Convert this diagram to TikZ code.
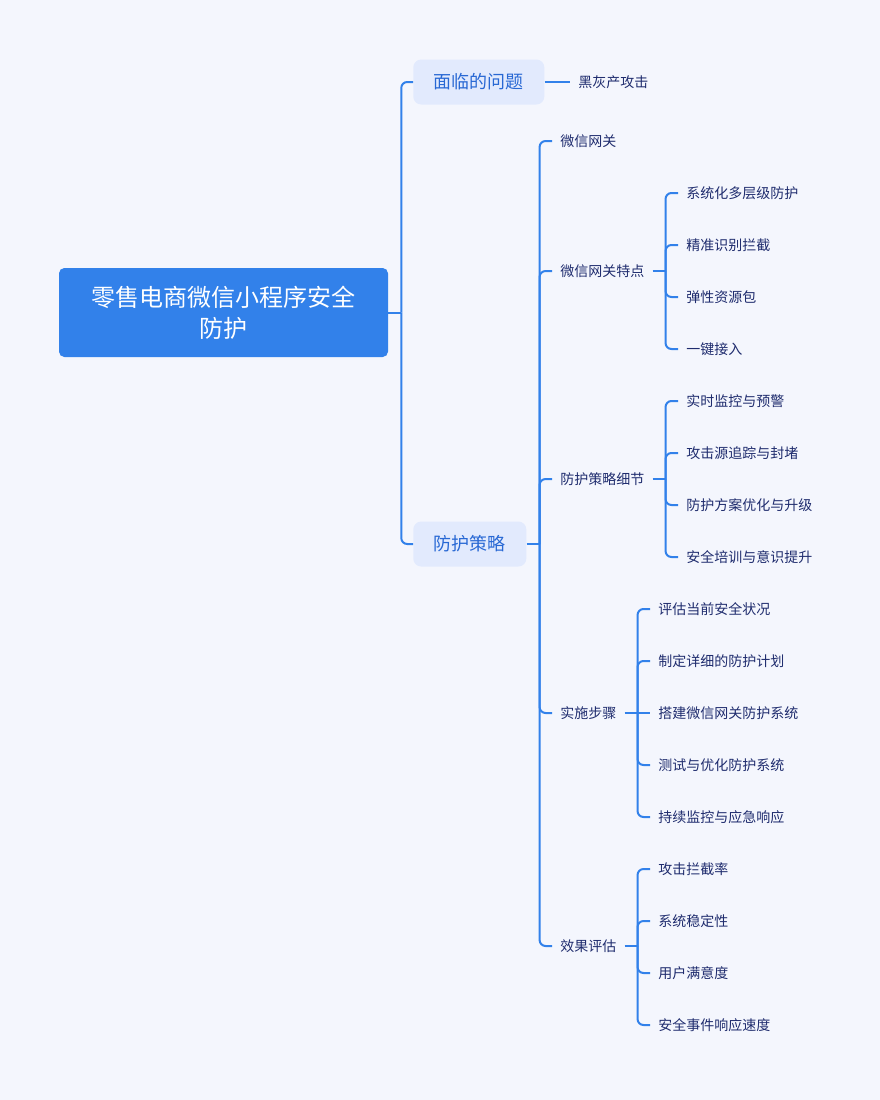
\documentclass[tikz,border=0pt]{standalone}
\usepackage{fontspec}
\setmainfont{Noto Sans CJK SC}
\usetikzlibrary{arrows.meta,backgrounds}

\definecolor{bgpaper}{HTML}{F4F6FD}
\definecolor{rootblue}{HTML}{3281EA}
\definecolor{topicfill}{HTML}{E2EAFD}
\definecolor{topictext}{HTML}{2868D4}
\definecolor{leaftext}{HTML}{1F2C6E}

\tikzset{
    rootnode/.style={fill=rootblue, text=white, rounded corners=4pt, align=center,
                     minimum width=246.75pt, minimum height=66.75pt,
                     font=\fontsize{18pt}{23.25pt}\selectfont},
    topic/.style={fill=topicfill, text=topictext, rounded corners=6pt, anchor=west,
                  inner xsep=15.4pt, minimum height=33.75pt,
                  font=\fontsize{13.5pt}{16pt}\selectfont},
    leaf/.style={text=leaftext, anchor=west, inner xsep=6pt, inner ysep=2pt,
                 font=\fontsize{10.5pt}{13pt}\selectfont},
    link/.style={draw=rootblue, line width=1.5pt, rounded corners=4.5pt}
}

\begin{document}
\begin{tikzpicture}[x=0.75pt, y=-0.75pt]
    \fill[bgpaper] (0,0) rectangle (880,1100);

    % root and first level
    \node[rootnode] (root) at (223.5,312.5) {零售电商微信小程序安全\\防护};
    \node[topic] (issue)  at (413,82)  {面临的问题};
    \node[topic] (policy) at (413,544) {防护策略};
    \node[leaf]  (attack) at (570,82)  {黑灰产攻击};

    % second level
    \node[leaf] (gw)      at (552,141) {微信网关};
    \node[leaf] (gwfeat)  at (552,271) {微信网关特点};
    \node[leaf] (detail)  at (552,479) {防护策略细节};
    \node[leaf] (steps)   at (552,713) {实施步骤};
    \node[leaf] (effect)  at (552,946) {效果评估};

    % third level
    \node[leaf] (f1) at (678,193) {系统化多层级防护};
    \node[leaf] (f2) at (678,245) {精准识别拦截};
    \node[leaf] (f3) at (678,297) {弹性资源包};
    \node[leaf] (f4) at (678,349) {一键接入};

    \node[leaf] (d1) at (678,401) {实时监控与预警};
    \node[leaf] (d2) at (678,453) {攻击源追踪与封堵};
    \node[leaf] (d3) at (678,505) {防护方案优化与升级};
    \node[leaf] (d4) at (678,557) {安全培训与意识提升};

    \node[leaf] (s1) at (650,609) {评估当前安全状况};
    \node[leaf] (s2) at (650,661) {制定详细的防护计划};
    \node[leaf] (s3) at (650,713) {搭建微信网关防护系统};
    \node[leaf] (s4) at (650,765) {测试与优化防护系统};
    \node[leaf] (s5) at (650,817) {持续监控与应急响应};

    \node[leaf] (e1) at (650,869)  {攻击拦截率};
    \node[leaf] (e2) at (650,921)  {系统稳定性};
    \node[leaf] (e3) at (650,973)  {用户满意度};
    \node[leaf] (e4) at (650,1025) {安全事件响应速度};

    % junctions
    \coordinate (jroot)   at ([xshift=9.75pt]root.east);
    \coordinate (jpolicy) at ([xshift=9.75pt]policy.east);
    \coordinate (jfeat)   at ([xshift=9.75pt]gwfeat.east);
    \coordinate (jdetail) at ([xshift=9.75pt]detail.east);
    \coordinate (jsteps)  at ([xshift=9.75pt]steps.east);
    \coordinate (jeffect) at ([xshift=9.75pt]effect.east);

    % connectors
    \draw[link] (root.east) -- (jroot);
    \draw[link] (jroot) |- (issue.west);
    \draw[link] (jroot) |- (policy.west);
    \draw[link] (issue.east) -- (attack.west);

    \draw[link] (policy.east) -- (jpolicy);
    \draw[link] (jpolicy) |- (gw.west);
    \draw[link] (jpolicy) |- (gwfeat.west);
    \draw[link] (jpolicy) |- (detail.west);
    \draw[link] (jpolicy) |- (steps.west);
    \draw[link] (jpolicy) |- (effect.west);

    \draw[link] (gwfeat.east) -- (jfeat);
    \draw[link] (jfeat) |- (f1.west);
    \draw[link] (jfeat) |- (f2.west);
    \draw[link] (jfeat) |- (f3.west);
    \draw[link] (jfeat) |- (f4.west);

    \draw[link] (detail.east) -- (jdetail);
    \draw[link] (jdetail) |- (d1.west);
    \draw[link] (jdetail) |- (d2.west);
    \draw[link] (jdetail) |- (d3.west);
    \draw[link] (jdetail) |- (d4.west);

    \draw[link] (steps.east) -- (jsteps);
    \draw[link] (jsteps) |- (s1.west);
    \draw[link] (jsteps) |- (s2.west);
    \draw[link] (jsteps) -- (s3.west);
    \draw[link] (jsteps) |- (s4.west);
    \draw[link] (jsteps) |- (s5.west);

    \draw[link] (effect.east) -- (jeffect);
    \draw[link] (jeffect) |- (e1.west);
    \draw[link] (jeffect) |- (e2.west);
    \draw[link] (jeffect) |- (e3.west);
    \draw[link] (jeffect) |- (e4.west);
\end{tikzpicture}
\end{document}
